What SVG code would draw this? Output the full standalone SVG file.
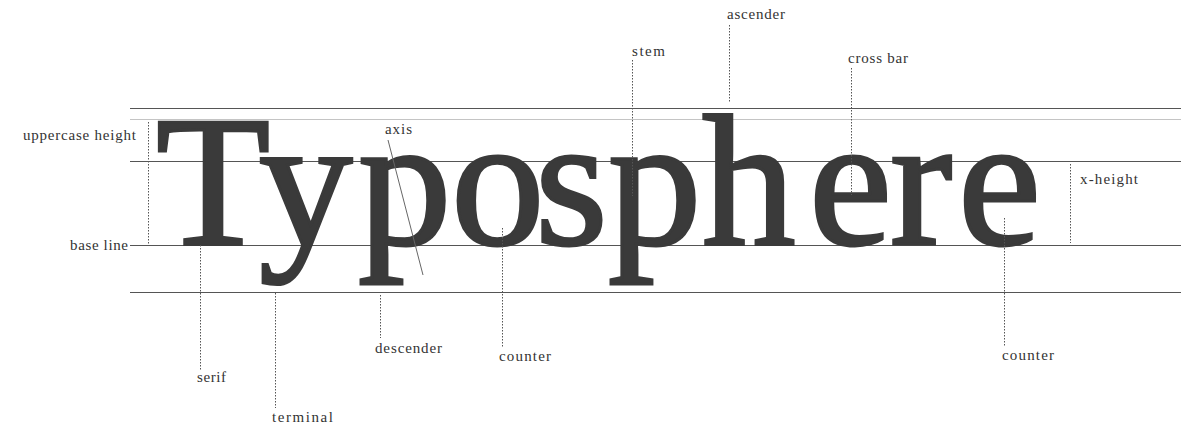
<svg xmlns="http://www.w3.org/2000/svg" width="1194" height="428" viewBox="0 0 1194 428">
  <style>
    .guide { stroke: #555; stroke-width: 1; }
    .guide-light { stroke: #c4c4c4; stroke-width: 1; }
    .dot { stroke: #555; stroke-width: 1; stroke-dasharray: 1.5 1.5; fill: none; }
    .axis { stroke: #666; stroke-width: 1; }
    .lbl { font-family: "Liberation Serif", "Times New Roman", serif; font-size: 15px; fill: #333; }
    .word { font-family: "Liberation Serif", "Times New Roman", serif; font-size: 187px; fill: #3a3a3a; stroke: #3a3a3a; stroke-width: 3; }
  </style>
  <rect width="1194" height="428" fill="#fff"/>
  <g id="guides">
    <line class="guide" x1="130" y1="108.5" x2="1181" y2="108.5"/>
    <line class="guide-light" x1="130" y1="119.5" x2="1181" y2="119.5"/>
    <line class="guide" x1="130" y1="161.5" x2="1181" y2="161.5"/>
    <line class="guide" x1="130" y1="245.5" x2="1181" y2="245.5"/>
    <line class="guide" x1="130" y1="292.5" x2="1181" y2="292.5"/>
  </g>
  <g id="word">
    <text class="word" x="156 259 358 451 535 608 702 809 890 958" y="244">Typosphere</text>
  </g>
  <g id="connectors">
    <line class="dot" x1="148.5" y1="122" x2="148.5" y2="244"/>
    <line class="dot" x1="1070.5" y1="164" x2="1070.5" y2="243"/>
    <line class="dot" x1="632.5" y1="60" x2="632.5" y2="196"/>
    <line class="dot" x1="729.5" y1="25" x2="729.5" y2="102"/>
    <line class="dot" x1="851.5" y1="68" x2="851.5" y2="195"/>
    <line class="dot" x1="200.5" y1="245" x2="200.5" y2="370"/>
    <line class="dot" x1="275.5" y1="293" x2="275.5" y2="408"/>
    <line class="dot" x1="380.5" y1="295" x2="380.5" y2="338"/>
    <line class="dot" x1="502.5" y1="228" x2="502.5" y2="347"/>
    <line class="dot" x1="1004.5" y1="218" x2="1004.5" y2="347"/>
    <line class="axis" x1="388" y1="140" x2="423" y2="275"/>
  </g>
  <g id="labels">
    <text id="lbl-ascender" class="lbl" x="727" y="19" textLength="58">ascender</text>
    <text id="lbl-stem" class="lbl" x="632" y="56" textLength="33">stem</text>
    <text id="lbl-crossbar" class="lbl" x="848" y="63" textLength="60">cross bar</text>
    <text id="lbl-uppercase" class="lbl" x="23" y="140" textLength="113">uppercase height</text>
    <text id="lbl-axis" class="lbl" x="385" y="134" textLength="27">axis</text>
    <text id="lbl-xheight" class="lbl" x="1080" y="184" textLength="58">x-height</text>
    <text id="lbl-baseline" class="lbl" x="70" y="250" textLength="58">base line</text>
    <text id="lbl-serif" class="lbl" x="197" y="382" textLength="29">serif</text>
    <text id="lbl-terminal" class="lbl" x="272" y="422" textLength="61">terminal</text>
    <text id="lbl-descender" class="lbl" x="375" y="353" textLength="67">descender</text>
    <text id="lbl-counter1" class="lbl" x="499" y="361" textLength="52">counter</text>
    <text id="lbl-counter2" class="lbl" x="1002" y="360" textLength="52">counter</text>
  </g>
</svg>
